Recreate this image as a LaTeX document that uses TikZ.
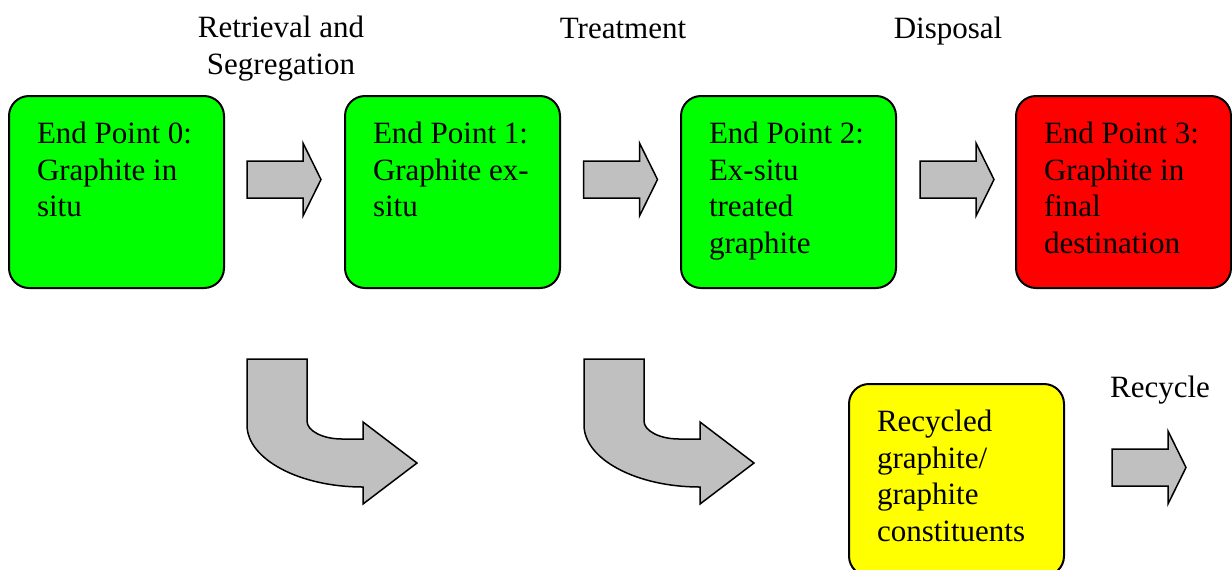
\documentclass[tikz,border=0pt]{standalone}
\usepackage{fontspec}
\setmainfont{Liberation Serif}

\definecolor{epgreen}{HTML}{00FF00}
\definecolor{epred}{HTML}{FF0000}
\definecolor{epyellow}{HTML}{FFFF00}
\definecolor{arrowgray}{HTML}{C0C0C0}

\tikzset{
  epbox/.style={draw,line width=1pt,rounded corners=10pt,anchor=north west,
    inner xsep=14pt,inner ysep=13pt},
  arrowfill/.style={draw,line width=0.75pt,fill=arrowgray,line join=miter},
  phase/.style={inner sep=0pt,align=center},
  blockarrow/.pic={
    \path[arrowfill] (0,-18.5) -- (56,-18.5) -- (56,-36.5) -- (74,0)
      -- (56,36.5) -- (56,18.5) -- (0,18.5) -- cycle;
  },
  bentarrow/.pic={
    \path[arrowfill] (0,0) -- (60,0) -- (60,62)
      .. controls (60,72) and (76,80) .. (95,80) -- (116,80) -- (116,63)
      -- (170,104) -- (116,145) -- (116,128)
      .. controls (52,128) and (0,100) .. (0,66) -- cycle;
  }
}

% text block inside an end point box
\newcommand{\eptext}[1]{\parbox[c][70pt][t]{79.5pt}{\raggedright #1}}

\begin{document}
\begin{tikzpicture}[x=0.5pt,y=-0.5pt,font=\fontsize{15.5}{18.25}\selectfont]
  \useasboundingbox (0,0) rectangle (1232,569);
  \clip (0,0) rectangle (1232,569);

  % phase labels
  \node[phase,anchor=north] (retr) at (281,16) {Retrieval and\\Segregation};
  \node[phase,anchor=base] (treat) at (623,38) {Treatment};
  \node[phase,anchor=base] (disp) at (948,38) {Disposal};
  \node[phase,anchor=base] (recy) at (1160,397) {Recycle};

  % end points
  \node[epbox,fill=epgreen] (ep0) at (8,95) {\eptext{End Point 0:\\Graphite in\\situ}};
  \node[epbox,fill=epgreen] (ep1) at (344,95) {\eptext{End Point 1:\\Graphite ex-\\situ}};
  \node[epbox,fill=epgreen] (ep2) at (680,95) {\eptext{End Point 2:\\Ex-situ\\treated\\graphite}};
  \node[epbox,fill=epred] (ep3) at (1015,95) {\eptext{End Point 3:\\Graphite in\\final\\destination}};
  \node[epbox,fill=epyellow] (rec) at (848,383) {\eptext{Recycled\\graphite/\\graphite\\constituents}};

  % arrows
  \pic (arr01) at (247,179.5) {blockarrow};
  \pic (arr12) at (583.5,179.5) {blockarrow};
  \pic (arr23) at (920,179.5) {blockarrow};
  \pic (arrrec) at (1112,467.5) {blockarrow};
  \pic (bend1) at (247,359) {bentarrow};
  \pic (bend2) at (584,359) {bentarrow};
\end{tikzpicture}
\end{document}
